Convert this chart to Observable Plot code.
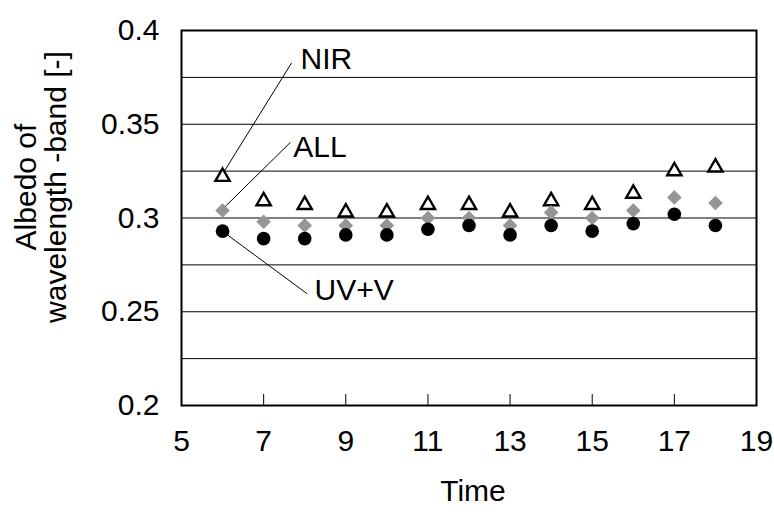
<!DOCTYPE html>
<html>
<head>
<meta charset="utf-8">
<script src="https://cdn.jsdelivr.net/npm/d3@7"></script>
<script src="https://cdn.jsdelivr.net/npm/@observablehq/plot@0.6"></script>
<style>
  html, body { margin: 0; padding: 0; background: #fff; }
</style>
</head>
<body>
<div id="chart"></div>
<script>
// Data
const time = [6, 7, 8, 9, 10, 11, 12, 13, 14, 15, 16, 17, 18];
const nir  = [0.322, 0.309, 0.307, 0.303, 0.303, 0.307, 0.307, 0.303, 0.309, 0.307, 0.313, 0.325, 0.327];
const all  = [0.304, 0.298, 0.296, 0.296, 0.296, 0.300, 0.300, 0.296, 0.303, 0.300, 0.304, 0.311, 0.308];
const uvv  = [0.293, 0.289, 0.289, 0.291, 0.291, 0.294, 0.296, 0.291, 0.296, 0.293, 0.297, 0.302, 0.296];

const xTickLabels = [5, 7, 9, 11, 13, 15, 17, 19];
const xInnerTicks = [7, 9, 11, 13, 15, 17];
const yTickLabels = [0.2, 0.25, 0.3, 0.35, 0.4];
const yGrid = [0.225, 0.25, 0.275, 0.3, 0.325, 0.35, 0.375];

// Series annotations (label text position and leader line, in data units)
const labelNames = ["NIR", "ALL", "UV+V"];
const labelX = [7.90, 7.72, 8.24];
const labelY = [0.3848, 0.3378, 0.2613];
const leaderX1 = [6.01, 5.99, 6.03];
const leaderY1 = [0.3238, 0.3045, 0.2924];
const leaderX2 = [7.68, 7.654, 8.06];
const leaderY2 = [0.3827, 0.3404, 0.2596];

const rows = (vals) => time.map((t, i) => ({t, v: vals[i]}));
const labels = labelNames.map((name, i) => ({
  name, x: labelX[i], y: labelY[i],
  x1: leaderX1[i], y1: leaderY1[i], x2: leaderX2[i], y2: leaderY2[i]
}));

const chart = Plot.plot({
  width: 774,
  height: 515,
  marginLeft: 181,
  marginRight: 18,
  marginTop: 30,
  marginBottom: 110,
  style: {fontFamily: "'Liberation Sans', Arial, sans-serif", fontSize: "29px", background: "#fff", color: "#000"},
  x: {domain: [5, 19]},
  y: {domain: [0.2, 0.4]},
  marks: [
    Plot.ruleY(yGrid, {stroke: "#000", strokeWidth: 1}),
    Plot.tickX(xInnerTicks, {x: d => d, stroke: "#000", strokeWidth: 1, insetTop: 364}),
    Plot.axisX({ticks: xTickLabels, tickSize: 0, tickPadding: 24, label: null, tickFormat: d => String(d), fontSize: 30}),
    Plot.axisY({ticks: yTickLabels, tickSize: 0, tickPadding: 22, label: null, tickFormat: d => String(d), fontSize: 30}),
    Plot.text(["Time"], {frameAnchor: "bottom", dy: 95, dx: 4, fontSize: 30, fill: "#000"}),
    Plot.text(["Albedo of"], {frameAnchor: "left", textAnchor: "middle", rotate: -90, dx: -155, dy: -31, fontSize: 30, fill: "#000"}),
    Plot.text(["wavelength -band [-]"], {frameAnchor: "left", textAnchor: "middle", rotate: -90, dx: -125, dy: -31, fontSize: 30, fill: "#000"}),
    Plot.link(labels, {x1: "x1", y1: "y1", x2: "x2", y2: "y2", stroke: "#000", strokeWidth: 1}),
    Plot.text(labels, {x: "x", y: "y", text: "name", textAnchor: "start", fontSize: 30, fill: "#000"}),
    Plot.dot(rows(nir), {x: "t", y: "v", symbol: "triangle", r: 5.3, stroke: "#000", strokeWidth: 2.4, fill: "#fff"}),
    Plot.dot(rows(all), {x: "t", y: "v", symbol: "diamond2", r: 6.6, fill: "#959595", stroke: "none"}),
    Plot.dot(rows(uvv), {x: "t", y: "v", r: 6.8, fill: "#000", stroke: "none"}),
    Plot.frame({stroke: "#000", strokeWidth: 2})
  ]
});
document.getElementById("chart").appendChild(chart);
</script>
</body>
</html>
